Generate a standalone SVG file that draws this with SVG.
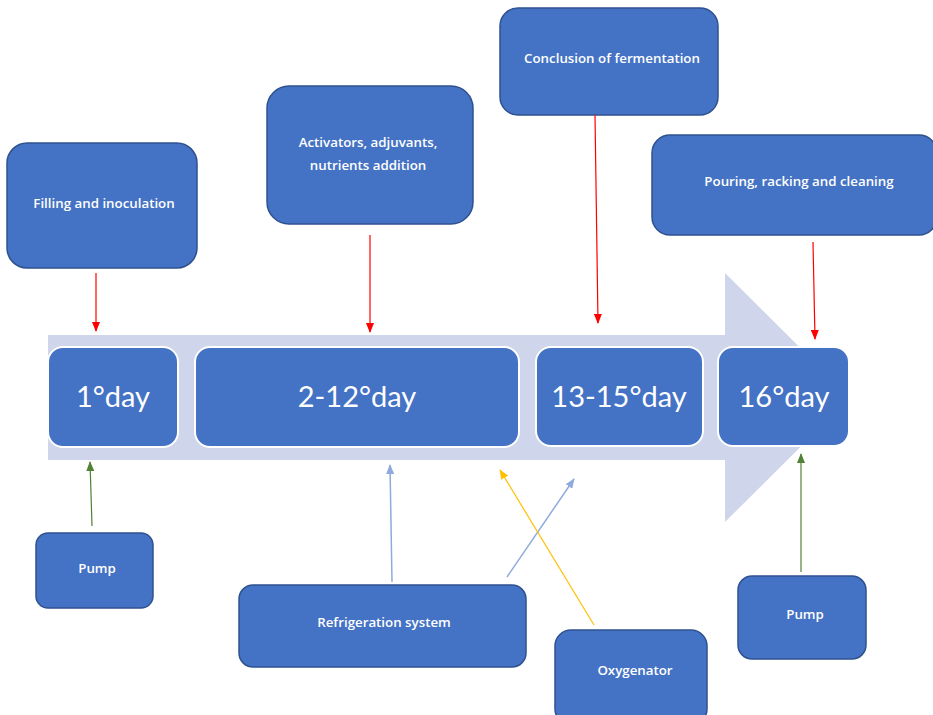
<svg xmlns="http://www.w3.org/2000/svg" width="933" height="715" viewBox="0 0 933 715">
<defs>
<style>
.box{fill:#4472C4;stroke:#2F528F;stroke-width:1.5}
.day{fill:#4472C4;stroke:#FFFFFF;stroke-width:2}
.lbl{font-family:"Open Sans","Liberation Sans",sans-serif;font-weight:600;font-size:13.3px;fill:#FFFFFF;text-anchor:middle}
.dlbl{font-family:Lato,"Liberation Sans",sans-serif;font-size:29px;fill:#FFFFFF;text-anchor:middle}
.red{stroke:#FF0000;stroke-width:1.2;fill:none;marker-end:url(#mRed)}
.grn{stroke:#548235;stroke-width:1.2;fill:none;marker-end:url(#mGrn)}
.blu{stroke:#8FAADC;stroke-width:1.5;fill:none;marker-end:url(#mBlu)}
.yel{stroke:#FFC000;stroke-width:1.2;fill:none;marker-end:url(#mYel)}
</style>
<marker id="mRed" markerWidth="10" markerHeight="8" refX="9" refY="4" orient="auto" markerUnits="userSpaceOnUse"><path d="M0,0 L10,4 L0,8 Z" fill="#FF0000"/></marker>
<marker id="mGrn" markerWidth="10" markerHeight="8" refX="9" refY="4" orient="auto" markerUnits="userSpaceOnUse"><path d="M0,0 L10,4 L0,8 Z" fill="#548235"/></marker>
<marker id="mBlu" markerWidth="10" markerHeight="8" refX="9" refY="4" orient="auto" markerUnits="userSpaceOnUse"><path d="M0,0 L10,4 L0,8 Z" fill="#8FAADC"/></marker>
<marker id="mYel" markerWidth="10" markerHeight="8" refX="9" refY="4" orient="auto" markerUnits="userSpaceOnUse"><path d="M0,0 L10,4 L0,8 Z" fill="#FFC000"/></marker>
</defs>
<rect width="933" height="715" fill="#FFFFFF"/>
<path id="timeline-arrow" d="M48,335 L725,335 L725,273 L850,397.5 L725,522 L725,460 L48,460 Z" fill="#CFD5EA"/>
<g id="day1"><rect class="day" x="48" y="347" width="130" height="100" rx="15"/><text class="dlbl" x="113" y="407">1°day</text></g>
<g id="day2-12"><rect class="day" x="195" y="347" width="324" height="100" rx="15"/><text class="dlbl" x="357" y="407">2-12°day</text></g>
<g id="day13-15"><rect class="day" x="536" y="347" width="167" height="99" rx="15"/><text class="dlbl" x="619" y="407">13-15°day</text></g>
<g id="day16"><rect class="day" x="718" y="347" width="131" height="99" rx="15"/><text class="dlbl" x="784" y="407">16°day</text></g>
<g id="filling"><rect class="box" x="7" y="143" width="190" height="125" rx="20"/><text class="lbl" x="104" y="208">Filling and inoculation</text></g>
<g id="activators"><rect class="box" x="267" y="86" width="206" height="138" rx="22"/><text class="lbl" x="368" y="147">Activators, adjuvants,</text><text class="lbl" x="368" y="170">nutrients addition</text></g>
<g id="conclusion"><rect class="box" x="500" y="8" width="218" height="107" rx="18"/><text class="lbl" x="612" y="63">Conclusion of fermentation</text></g>
<g id="pouring"><rect class="box" x="652" y="135" width="285" height="100" rx="18"/><text class="lbl" x="799" y="186">Pouring, racking and cleaning</text></g>
<g id="pump1"><rect class="box" x="36" y="533" width="117" height="75" rx="12"/><text class="lbl" x="97" y="573">Pump</text></g>
<g id="refrigeration"><rect class="box" x="239" y="585" width="287" height="82" rx="14"/><text class="lbl" x="384" y="627">Refrigeration system</text></g>
<g id="oxygenator"><rect class="box" x="555" y="630" width="152" height="95" rx="16"/><text class="lbl" x="635" y="675">Oxygenator</text></g>
<g id="pump2"><rect class="box" x="738" y="576" width="128" height="83" rx="14"/><text class="lbl" x="805" y="619">Pump</text></g>
<g id="connectors">
<line class="red" x1="96" y1="273" x2="96" y2="331"/>
<line class="red" x1="370" y1="235" x2="370" y2="332"/>
<line class="red" x1="595" y1="115" x2="598" y2="323"/>
<line class="red" x1="813" y1="242" x2="815" y2="339"/>
<line class="grn" x1="92" y1="526" x2="90" y2="462"/>
<line class="grn" x1="801" y1="572" x2="801" y2="454"/>
<line class="blu" x1="392" y1="582" x2="390" y2="465"/>
<line class="blu" x1="507" y1="577" x2="574" y2="479"/>
<line class="yel" x1="594" y1="625" x2="500" y2="470"/>
</g>
</svg>
